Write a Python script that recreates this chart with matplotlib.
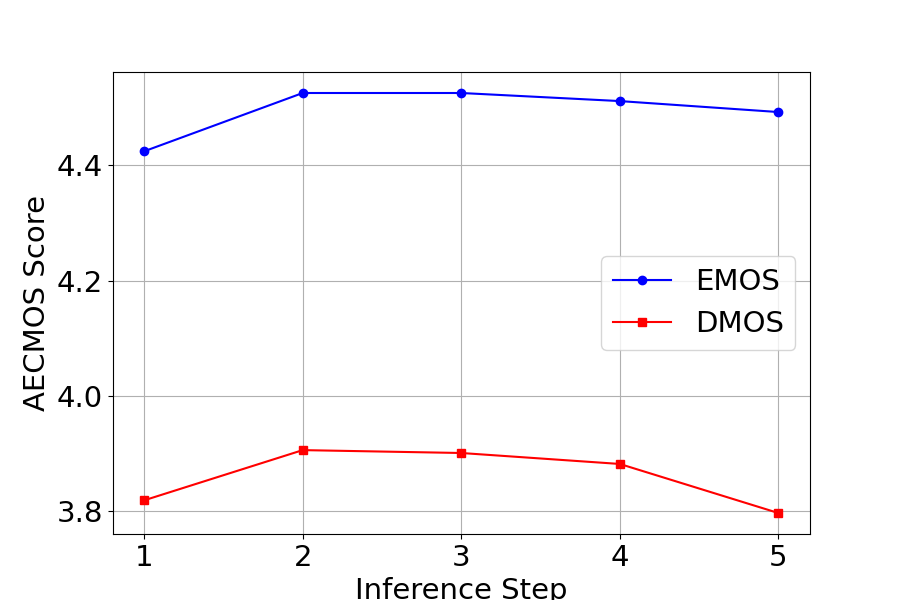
import matplotlib
matplotlib.use("Agg")
import matplotlib.pyplot as plt

# Datos
steps = [1, 2, 3, 4, 5]
emos = [4.424, 4.525, 4.525, 4.511, 4.492]
dmos = [3.819, 3.906, 3.901, 3.882, 3.797]

plt.rcParams['font.size'] = 21

fig, ax = plt.subplots(figsize=(9, 6), dpi=100)
ax.plot(steps, emos, color='blue', marker='o', label='EMOS')
ax.plot(steps, dmos, color='red', marker='s', label='DMOS')
ax.set_xlabel('Inference Step')
ax.set_ylabel('AECMOS Score')
ax.set_xticks(steps)
ax.grid(True)
ax.legend(loc='center right')

fig.savefig('out.png', dpi=100)
